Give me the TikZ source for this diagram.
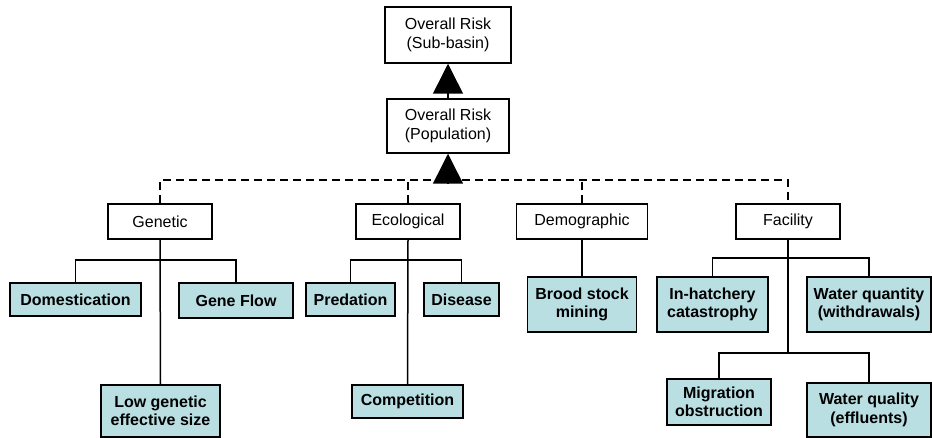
\documentclass[tikz,border=0pt]{standalone}
\usepackage{fontspec}
\setmainfont{Liberation Sans}
\usetikzlibrary{arrows.meta}
\definecolor{leaf}{RGB}{185,223,227}
\begin{document}
\begin{tikzpicture}[x=1pt,y=-1pt,
  box/.style={draw=black,line width=1.5pt,fill=white,inner sep=0pt,align=center,
    font=\fontsize{16}{19}\selectfont},
  leafbox/.style={box,fill=leaf,font=\fontsize{16}{18.5}\selectfont\bfseries},
  conn/.style={line width=1.5pt},
  dconn/.style={line width=1.5pt,dash pattern=on 8pt off 5pt},
  bigarrow/.style={line width=1.5pt,-{Triangle[length=30pt,width=30pt]}}]
\useasboundingbox (0,0) rectangle (932,438);
% top levels
\node[box,minimum width=126pt,minimum height=56pt] (sub) at (448,35) {Overall Risk\\(Sub-basin)};
\node[box,minimum width=122pt,minimum height=54pt] (pop) at (448,126) {Overall Risk\\(Population)};
% categories
\node[box,minimum width=104pt,minimum height=35pt] (gen) at (160,221.5) {Genetic};
\node[box,minimum width=104pt,minimum height=35pt] (eco) at (408,221.5) {Ecological};
\node[box,minimum width=131pt,minimum height=35pt] (dem) at (582,221.5) {Demographic};
\node[box,minimum width=104pt,minimum height=35pt] (fac) at (788,221.5) {Facility};
% leaves
\node[leafbox,minimum width=131pt,minimum height=33pt] (dom) at (75.5,299.5) {Domestication};
\node[leafbox,minimum width=114pt,minimum height=35pt] (gf) at (236,300.5) {Gene Flow};
\node[leafbox,minimum width=119pt,minimum height=52pt] (low) at (160.5,411) {Low genetic\\effective size};
\node[leafbox,minimum width=89pt,minimum height=33pt] (pred) at (350.5,299.5) {Predation};
\node[leafbox,minimum width=75pt,minimum height=33pt] (dis) at (461.5,299.5) {Disease};
\node[leafbox,minimum width=111pt,minimum height=33pt] (comp) at (407.5,401.5) {Competition};
\node[leafbox,minimum width=109pt,minimum height=55pt] (brood) at (582,304.5) {Brood stock\\mining};
\node[leafbox,minimum width=111pt,minimum height=55pt] (inh) at (712.5,304.5) {In-hatchery\\catastrophy};
\node[leafbox,minimum width=124pt,minimum height=55pt] (wqn) at (869,304.5) {Water quantity\\(withdrawals)};
\node[leafbox,minimum width=104pt,minimum height=46pt] (mig) at (719,402) {Migration\\obstruction};
\node[leafbox,minimum width=124pt,minimum height=54pt] (wql) at (869,410) {Water quality\\(effluents)};
% coordinates
\coordinate (dl) at (160,180);
\coordinate (dr) at (788,180);
\coordinate (abase) at (448,183);
\coordinate (gbar) at (160,260);
\coordinate (ebar) at (408,260);
\coordinate (fbar) at (788,258);
\coordinate (fbar2) at (788,353);
% dashed connectors
\draw[dconn] (gen.north) -- (dl) -- (dr) -- (fac.north);
\draw[dconn] (eco.north) -- (eco.north |- dl);
\draw[dconn] (dem.north) -- (dem.north |- dl);
% arrows
\draw[bigarrow] (abase) -- (pop.south);
\draw[bigarrow] (pop.north) -- (sub.south);
% genetic
\draw[conn] (gen.south) -- (low.north);
\draw[conn] (dom.north) |- (gbar) -| (gf.north);
% ecological
\draw[conn] (eco.south) -- (comp.north);
\draw[conn] (pred.north) |- (ebar) -| (dis.north);
% demographic
\draw[conn] (dem.south) -- (brood.north);
% facility
\draw[conn] (fac.south) -- (fbar2);
\draw[conn] (inh.north) |- (fbar) -| (wqn.north);
\draw[conn] (mig.north) |- (fbar2) -| (wql.north);
\end{tikzpicture}
\end{document}
